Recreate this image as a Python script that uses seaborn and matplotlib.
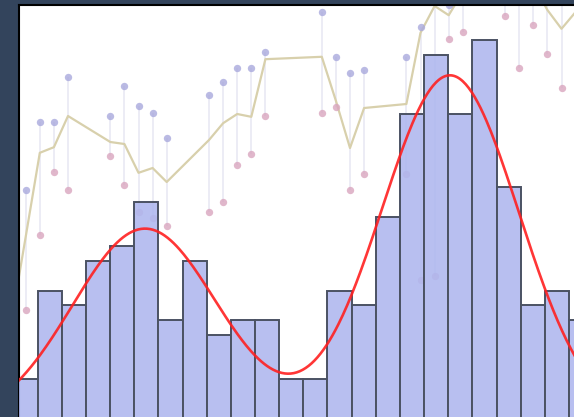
import numpy as np
import pandas as pd
import matplotlib
matplotlib.use("Agg")
import matplotlib.pyplot as plt
import seaborn as sns

# ---------------- data ----------------
# histogram (bin width 0.2, first edge -0.6)
bin_edges = [-0.6 + 0.2 * k for k in range(25)]
bin_counts = [3, 9, 8, 11, 12, 15, 7, 11, 6, 7, 7, 3, 3, 9, 8, 14, 21, 25, 21, 26, 16, 8, 9, 7]

# fitted two-component density curve (in count units)
curve_means = [0.489, 3.015]
curve_sds = [0.60, 0.57]
curve_peaks = [13.2, 23.6]

# daily high / low / close series
days = [-1, 0, 1, 2, 3, 6, 7, 8, 9, 10, 13, 14, 15, 16, 17, 21, 22, 23, 24,
        27, 28, 29, 30, 31, 34, 35, 36, 37, 38, 39]
high = [np.nan, 52.5, 69.5, 69.5, 80.8, 71.0, 78.5, 73.5, 71.8, 65.5, 76.2, 79.5, 83.0, 83.0, 87.0,
        97.0, 85.8, 81.8, 82.5, 85.8, 93.2, 103.0, 98.8, 106.2, 110.0, 108.8, 110.0, 107.5, 105.0, np.nan]
low = [np.nan, 22.5, 41.2, 57.0, 52.5, 61.0, 53.8, 47.0, 45.5, 43.5, 47.0, 49.5, 58.8, 61.5, 71.0,
       71.8, 73.2, 52.5, 56.5, 56.5, 30.0, 31.0, 90.2, 92.0, 96.0, 83.0, 93.8, 86.5, 78.0, np.nan]
close = [20.0, 40.8, 61.8, 63.2, 71.0, 64.5, 64.0, 56.8, 58.0, 54.5, 65.0, 69.2, 71.5, 70.8, 85.2,
         85.8, 74.8, 63.0, 73.0, 74.0, 91.8, 98.5, 96.2, 102.0, 105.0, 103.8, 103.8, 97.5, 92.8, 97.0]

# ---------------- figure ----------------
sns.set_theme(style="white")
W, H = 574, 417
fig = plt.figure(figsize=(W / 100, H / 100), dpi=100)
fig.patch.set_facecolor("#33445c")

left_px, top_px, right_px, bottom_px = 19, 5, 600, 423.2
pos = [left_px / W, (H - bottom_px) / H, (right_px - left_px) / W, (bottom_px - top_px) / H]

# price axes underneath (white background)
ax2 = fig.add_axes(pos)
ax2.set_facecolor("white")
ax2.set_zorder(0)
# histogram axes on top (transparent background)
ax = fig.add_axes(pos)
ax.set_zorder(1)
ax.patch.set_alpha(0)

# price series (under the bars)
df = pd.DataFrame({"day": days, "high": high, "low": low, "close": close})
dd = df.dropna()
ax2.vlines(dd["day"], dd["low"], dd["high"], colors="#e9e9f4", linewidth=1.2, zorder=1)
sns.lineplot(data=df, x="day", y="close", ax=ax2, color="#d8d0ac", linewidth=1.6, zorder=2)
sns.scatterplot(data=dd, x="day", y="high", ax=ax2, color="#a9a9dd", s=28, linewidth=0,
                alpha=0.8, zorder=3)
sns.scatterplot(data=dd, x="day", y="low", ax=ax2, color="#d9a5be", s=28, linewidth=0,
                alpha=0.8, zorder=3)
ax2.set_xlim((left_px - 25.7) / 14.1, (right_px - 25.7) / 14.1)
ax2.set_ylim(100 - bottom_px / 4, 100 - top_px / 4)
ax2.set_xticks([])
ax2.set_yticks([])
ax2.set_xlabel("")
ax2.set_ylabel("")
for side in ax2.spines:
    ax2.spines[side].set_visible(False)

# histogram
centers = [(bin_edges[i] + bin_edges[i + 1]) / 2 for i in range(len(bin_counts))]
sns.histplot(x=centers, weights=bin_counts, bins=bin_edges, ax=ax, stat="count",
             color="#aeb7ef", alpha=0.88, edgecolor="#4b5263", linewidth=1.4, zorder=3)

# fitted curve
xs = np.linspace(-0.6, 4.3, 400)
ys = np.zeros_like(xs)
for m, s, a in zip(curve_means, curve_sds, curve_peaks):
    ys += a * np.exp(-0.5 * ((xs - m) / s) ** 2)
sns.lineplot(x=xs, y=ys, ax=ax, color="#ff2020", linewidth=1.9, alpha=0.9, zorder=4)

px_per_unit = 120.75
ax.set_xlim((left_px - 13.5) / px_per_unit - 0.6, (right_px - 13.5) / px_per_unit - 0.6)
ax.set_ylim(0, (bottom_px - top_px) / 14.74)
ax.set_xticks([0, 1, 2, 3, 4])
ax.set_yticks([])
ax.tick_params(axis="x", direction="in", length=8, width=1.2, color="#222222",
               labelbottom=False, bottom=True)
ax.set_xlabel("")
ax.set_ylabel("")
for side in ["left", "top"]:
    ax.spines[side].set_visible(True)
    ax.spines[side].set_color("black")
    ax.spines[side].set_linewidth(1.5)
for side in ["right", "bottom"]:
    ax.spines[side].set_visible(False)

fig.savefig("out.png", dpi=100, facecolor=fig.get_facecolor())
